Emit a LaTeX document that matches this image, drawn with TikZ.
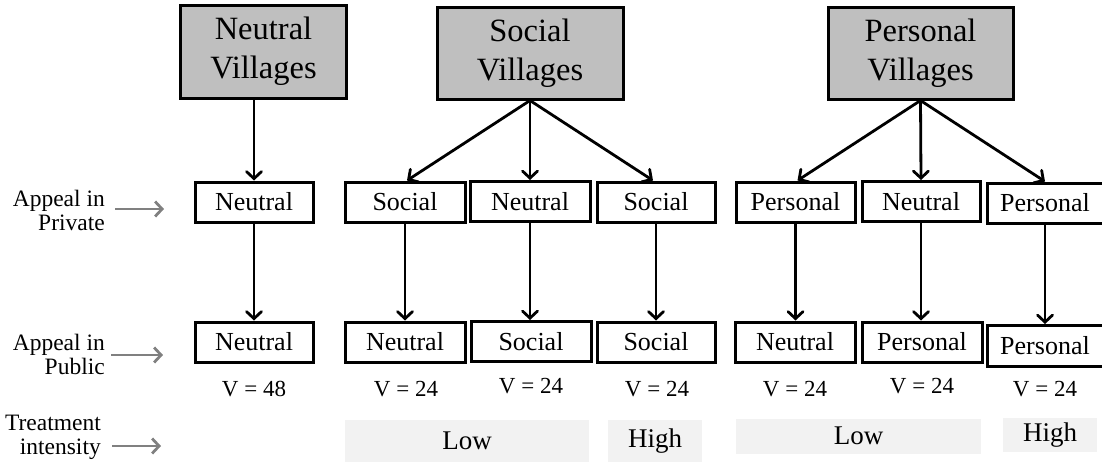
\documentclass[tikz,border=0pt]{standalone}
\usepackage{fontspec}
\setmainfont{Liberation Serif}
\usetikzlibrary{arrows.meta}
\definecolor{topgray}{HTML}{BFBFBF}
\definecolor{bandgray}{HTML}{F2F2F2}
\definecolor{lblgray}{HTML}{808080}
\begin{document}
\begin{tikzpicture}[x=1pt,y=-1pt,
  vbox/.style={draw, line width=3pt, fill=topgray, inner sep=0pt, align=center,
    font=\fontsize{32.5}{39}\selectfont},
  cbox/.style={draw, line width=3pt, inner sep=0pt, minimum height=40pt,
    font=\fontsize{26}{28}\selectfont},
  vlab/.style={font=\fontsize{23}{24}\selectfont},
  band/.style={fill=bandgray, inner sep=0pt, font=\fontsize{27}{28}\selectfont},
  side/.style={align=right, anchor=east, inner sep=0pt, font=\fontsize{23.5}{24}\selectfont},
  arr/.style={line width=2.8pt, -{Straight Barb[length=7pt,width=15pt,line cap=round]}},
  garr/.style={line width=2.8pt, draw=lblgray, -{Straight Barb[length=7pt,width=15pt]}}]
\useasboundingbox (0,0) rectangle (1102,463);

% top boxes
\node[vbox, minimum width=166pt, minimum height=93pt] (NV) at (263.5,51.5) {Neutral\\Villages};
\node[vbox, minimum width=186pt, minimum height=92pt] (SV) at (530,53) {Social\\Villages};
\node[vbox, minimum width=185pt, minimum height=92pt] (PV) at (920.5,53) {Personal\\Villages};

% private row
\node[cbox, minimum width=118pt] (NP)  at (254,202) {Neutral};
\node[cbox, minimum width=120pt] (SP1) at (405,202) {Social};
\node[cbox, minimum width=120pt] (SP2) at (530,201.5) {Neutral};
\node[cbox, minimum width=118pt] (SP3) at (656,202) {Social};
\node[cbox, minimum width=119pt] (PP1) at (795.5,202) {Personal};
\node[cbox, minimum width=118pt] (PP2) at (921,201.5) {Neutral};
\node[cbox, minimum width=116pt] (PP3) at (1045,203) {Personal};

% public row
\node[cbox, minimum width=118pt] (NQ)  at (254,342) {Neutral};
\node[cbox, minimum width=120pt] (SQ1) at (405,342) {Neutral};
\node[cbox, minimum width=120pt] (SQ2) at (531,341.5) {Social};
\node[cbox, minimum width=118pt] (SQ3) at (656,342) {Social};
\node[cbox, minimum width=120pt] (PQ1) at (795,342) {Neutral};
\node[cbox, minimum width=120pt] (PQ2) at (922,342) {Personal};
\node[cbox, minimum width=116pt, minimum height=41pt] (PQ3) at (1045,346) {Personal};

% V labels
\node[vlab] (VN)  at (254,389) {V = 48};
\node[vlab] (VS1) at (406,389) {V = 24};
\node[vlab] (VS2) at (531,386) {V = 24};
\node[vlab] (VS3) at (657,389) {V = 24};
\node[vlab] (VP1) at (795,389) {V = 24};
\node[vlab] (VP2) at (922,386) {V = 24};
\node[vlab] (VP3) at (1045,389) {V = 24};

% treatment bands
\node[band, minimum width=244pt, minimum height=42pt] (SL) at (467,441) {Low};
\node[band, minimum width=94pt, minimum height=42pt] (SH) at (655,441) {High};
\node[band, minimum width=245pt, minimum height=35pt] (PL) at (858.5,436) {Low};
\node[band, minimum width=94pt, minimum height=34pt] (PH) at (1050,435) {High};

% side labels
\node[side] (LPriv) at (105,210) {Appeal in\\Private};
\node[side] (LPub)  at (105,354) {Appeal in\\Public};
\node[side] (LTr)   at (101,437) {Treatment\\intensity};
\coordinate (aPriv) at (164,209);
\coordinate (aPub)  at (163,355);
\coordinate (aTr)   at (161,446);
\draw[garr] (LPriv.east |- aPriv) ++(10,0) -- (aPriv);
\draw[garr] (LPub.east |- aPub) ++(6,0) -- (aPub);
\draw[garr] (LTr.east |- aTr) ++(11,0) -- (aTr);

% arrows top -> private
\draw[arr] (NP.north |- NV.south) -- (NP.north);
\draw[arr] (SV.south) -- ([xshift=2pt]SP1.north);
\draw[arr] (SV.south) -- (SP2.north);
\draw[arr] (SV.south) -- ([xshift=-3pt]SP3.north);
\draw[arr] (PV.south) -- ([xshift=2pt]PP1.north);
\draw[arr] (PV.south) -- (PP2.north);
\draw[arr] (PV.south) -- (PP3.north);

% arrows private -> public
\draw[arr] (NP.south) -- (NQ.north);
\draw[arr] (SP1.south) -- (SQ1.north);
\draw[arr] (SP2.south) -- (SQ2.north -| SP2.south);
\draw[arr] (SP3.south) -- (SQ3.north);
\draw[arr] (PP1.south) -- (PQ1.north -| PP1.south);
\draw[arr] (PP2.south) -- (PQ2.north -| PP2.south);
\draw[arr] (PP3.south) -- (PQ3.north);
\end{tikzpicture}
\end{document}
